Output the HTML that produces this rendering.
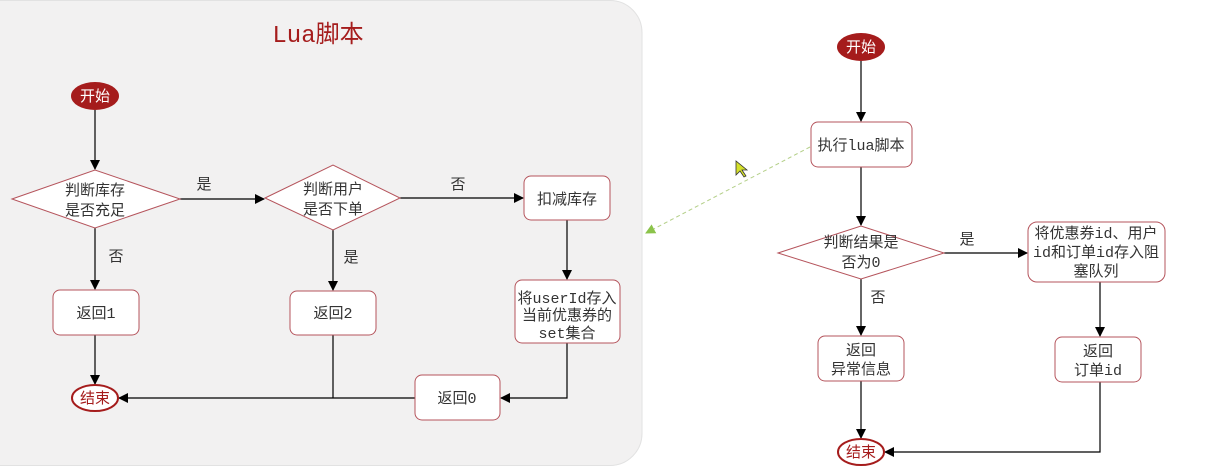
<!DOCTYPE html>
<html><head><meta charset="utf-8"><style>
html,body{margin:0;background:#fff;overflow:hidden;width:1213px;height:466px;}
svg{display:block;}
svg text{font-family:"Liberation Mono","Noto Sans CJK SC",monospace;font-size:15px;fill:#333;text-anchor:middle;}
</style></head><body>
<svg width="1213" height="466" viewBox="0 0 1213 466" xmlns="http://www.w3.org/2000/svg">
<defs>
<marker id="a" markerWidth="10" markerHeight="10" refX="9" refY="5" orient="auto" markerUnits="userSpaceOnUse"><path d="M0,0 L10,5 L0,10 Z" fill="#000"/></marker>
<marker id="g" markerWidth="10" markerHeight="10" refX="9" refY="5" orient="auto" markerUnits="userSpaceOnUse"><path d="M0,0 L10,5 L0,10 Z" fill="#8bc34a"/></marker>
</defs>
<rect x="-40" y="0.5" width="682" height="465" rx="32" fill="#f2f1f1" stroke="#e2e2e2"/>
<text x="318" y="42" style="font-size:24px;fill:#a51c1c">Lua脚本</text>
<g stroke="#000" stroke-width="1.2" fill="none">
<line x1="95" y1="110" x2="95" y2="169" marker-end="url(#a)"/>
<line x1="180" y1="199" x2="264" y2="199" marker-end="url(#a)"/>
<line x1="400" y1="198" x2="523" y2="198" marker-end="url(#a)"/>
<line x1="95" y1="228" x2="95" y2="289" marker-end="url(#a)"/>
<line x1="333" y1="230" x2="333" y2="290" marker-end="url(#a)"/>
<line x1="567" y1="220" x2="567" y2="279" marker-end="url(#a)"/>
<line x1="95" y1="335" x2="95" y2="384" marker-end="url(#a)"/>
<line x1="333" y1="335" x2="333" y2="398"/>
<line x1="415" y1="398" x2="119" y2="398" marker-end="url(#a)"/>
<polyline points="567,343 567,398 501,398" marker-end="url(#a)"/>
<line x1="861" y1="61" x2="861" y2="121" marker-end="url(#a)"/>
<line x1="861" y1="167" x2="861" y2="225" marker-end="url(#a)"/>
<line x1="944" y1="253" x2="1027" y2="253" marker-end="url(#a)"/>
<line x1="861" y1="279" x2="861" y2="335" marker-end="url(#a)"/>
<line x1="1100" y1="282" x2="1100" y2="336" marker-end="url(#a)"/>
<line x1="861" y1="381" x2="861" y2="438" marker-end="url(#a)"/>
<polyline points="1100,382 1100,452 885,452" marker-end="url(#a)"/>
</g>
<line x1="810" y1="147" x2="646" y2="233" stroke="#b5d08a" stroke-dasharray="4,3" marker-end="url(#g)"/>
<path d="M736,161 L736,175 L740,171 L744,177 L746,176 L742,170 L747,170 Z" fill="#d4e02a" stroke="#333" stroke-width="0.8"/>
<g fill="#fff" stroke="#b5545c" stroke-width="1">
<polygon points="12,199 95,170 180,199 95,228"/>
<polygon points="265,198 333,165 400,198 333,230"/>
<rect x="524" y="176" width="86" height="44" rx="7"/>
<rect x="53" y="290" width="86" height="45" rx="7"/>
<rect x="290" y="291" width="86" height="44" rx="7"/>
<rect x="515" y="280" width="105" height="63" rx="7"/>
<rect x="415" y="375" width="85" height="45" rx="7"/>
<ellipse cx="95" cy="398" rx="23" ry="13" stroke="#a51c1c" stroke-width="2"/>
<rect x="811" y="122" width="101" height="45" rx="7"/>
<polygon points="778,253 861,226 944,253 861,279"/>
<rect x="1028" y="222" width="137" height="60" rx="9"/>
<rect x="818" y="336" width="86" height="45" rx="7"/>
<rect x="1055" y="337" width="86" height="45" rx="7"/>
<ellipse cx="861" cy="452" rx="23" ry="13" stroke="#a51c1c" stroke-width="2"/>
</g>
<ellipse cx="95" cy="96" rx="24" ry="14" fill="#a51c1c"/>
<ellipse cx="861" cy="47" rx="24" ry="14" fill="#a51c1c"/>
<text x="95" y="101" style="fill:#fff">开始</text>
<text x="861" y="52" style="fill:#fff">开始</text>
<text x="95" y="403" style="fill:#a51c1c">结束</text>
<text x="861" y="457" style="fill:#a51c1c">结束</text>
<text x="95" y="195">判断库存</text><text x="95" y="215">是否充足</text>
<text x="333" y="194">判断用户</text><text x="333" y="214">是否下单</text>
<text x="567" y="204">扣减库存</text>
<text x="96" y="318">返回1</text>
<text x="333" y="318">返回2</text>
<text x="567" y="303">将userId存入</text><text x="567" y="320">当前优惠券的</text><text x="567" y="338">set集合</text>
<text x="457" y="403">返回0</text>
<text x="204" y="189">是</text><text x="458" y="189">否</text>
<text x="116" y="261">否</text><text x="351" y="262">是</text>
<text x="861" y="150">执行lua脚本</text>
<text x="861" y="247">判断结果是</text><text x="861" y="267">否为0</text>
<text x="1096" y="238">将优惠券id、用户</text><text x="1096" y="257">id和订单id存入阻</text><text x="1096" y="276">塞队列</text>
<text x="861" y="355">返回</text><text x="861" y="374">异常信息</text>
<text x="1098" y="356">返回</text><text x="1098" y="375">订单id</text>
<text x="967" y="244">是</text><text x="878" y="302">否</text>
</svg>
</body></html>
